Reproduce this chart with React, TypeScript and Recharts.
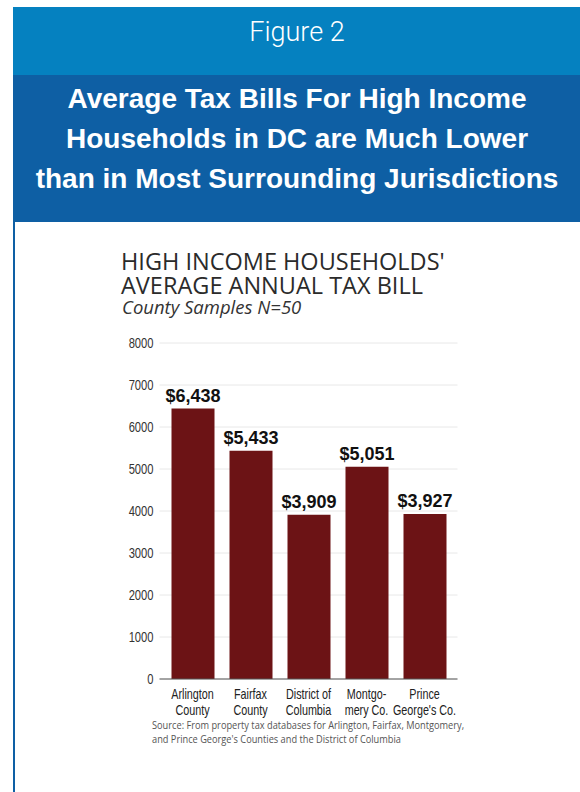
import React from "react";
import { BarChart, Bar, XAxis, YAxis, CartesianGrid, LabelList } from "recharts";

const categories = [
  "Arlington County",
  "Fairfax County",
  "District of Columbia",
  "Montgomery Co.",
  "Prince George's Co.",
];
const labelLine1 = ["Arlington", "Fairfax", "District of", "Montgo-", "Prince"];
const labelLine2 = ["County", "County", "Columbia", "mery Co.", "George's Co."];
const taxBills = [6438, 5433, 3909, 5051, 3927];
const yTicks = [0, 1000, 2000, 3000, 4000, 5000, 6000, 7000, 8000];

const headerTitle = "Figure 2";
const headlineLines = [
  "Average Tax Bills For High Income",
  "Households in DC are Much Lower",
  "than in Most Surrounding Jurisdictions",
];
const chartTitleLines = ["HIGH INCOME HOUSEHOLDS'", "AVERAGE ANNUAL TAX BILL"];
const chartSubtitle = "County Samples N=50";
const sourceLines = [
  "Source: From property tax databases for Arlington, Fairfax, Montgomery,",
  "and Prince George's Counties and the District of Columbia",
];

const data = categories.map((c, i) => ({ name: c, value: taxBills[i] }));

const SANS = "'Liberation Sans', Arial, sans-serif";

const XTick = (props: any) => {
  const { x, y, payload } = props;
  const i = payload.index;
  return (
    <g transform={`translate(${x},${y}) scale(0.77,1)`}>
      <text x={0} y={18} textAnchor="middle" fontFamily={SANS} fontSize={14} fill="#222">
        {labelLine1[i]}
      </text>
      <text x={0} y={34} textAnchor="middle" fontFamily={SANS} fontSize={14} fill="#222">
        {labelLine2[i]}
      </text>
    </g>
  );
};

const YTick = (props: any) => {
  const { x, y, payload } = props;
  return (
    <g transform={`translate(${x},${y}) scale(0.8,1)`}>
      <text x={0} y={0} dy={5} textAnchor="end" fontFamily={SANS} fontSize={14} fill="#333">
        {payload.value}
      </text>
    </g>
  );
};

const fmt = (v: any) => "$" + Number(v).toLocaleString("en-US");

export default function App() {
  return (
    <div style={{ position: "relative", width: 580, height: 792, background: "#fff", overflow: "hidden" }}>
      <style>{`body{margin:0;}`}</style>
      <svg width={580} height={792} style={{ position: "absolute", left: 0, top: 0 }}>
        <rect x={13} y={7} width={567} height={68} fill="#0581c0" />
        <rect x={13} y={75} width={567} height={147} fill="#0e5fa4" />
        <rect x={13} y={222} width={2} height={570} fill="#0e5fa4" />
        <text x={297} y={41} textAnchor="middle" fill="#fff" fontFamily="Roboto, sans-serif" fontWeight={300} fontSize={27}>
          {headerTitle}
        </text>
        {headlineLines.map((t, i) => (
          <text key={i} x={297} y={108 + i * 40} textAnchor="middle" fill="#fff" fontFamily={SANS} fontWeight={700} fontSize={28}>
            {t}
          </text>
        ))}
        {chartTitleLines.map((t, i) => (
          <text key={i} x={121} y={270 + i * 24} fill="#2b2b2b" fontFamily="'Open Sans', sans-serif" fontSize={23.5}>
            {t}
          </text>
        ))}
        <text x={122} y={314} fill="#333" fontFamily="'Open Sans', sans-serif" fontStyle="italic" fontSize={18.5}>
          {chartSubtitle}
        </text>
        {sourceLines.map((t, i) => (
          <g key={i} transform={`translate(152,${729 + i * 14}) scale(0.88,1)`}>
            <text x={0} y={0} fill="#555" fontFamily="'Open Sans', sans-serif" fontSize={10.5}>
              {t}
            </text>
          </g>
        ))}
      </svg>
      <div style={{ position: "absolute", left: 0, top: 300 }}>
        <BarChart
          width={580}
          height={460}
          data={data}
          margin={{ top: 43, right: 122.5, bottom: 41, left: 99.5 }}
        >
          <CartesianGrid vertical={false} stroke="#e8e8e8" />
          <XAxis
            dataKey="name"
            height={40}
            padding={{ left: 4, right: 4 }}
            tickLine={false}
            tickSize={0}
            axisLine={{ stroke: "#555" }}
            interval={0}
            tick={<XTick />}
          />
          <YAxis
            width={60}
            domain={[0, 8000]}
            ticks={yTicks}
            interval={0}
            axisLine={false}
            tickLine={false}
            tickSize={0}
            tickMargin={6}
            tick={<YTick />}
          />
          <Bar dataKey="value" fill="#6c1315" barSize={43} isAnimationActive={false}>
            <LabelList
              dataKey="value"
              position="top"
              offset={7}
              formatter={fmt}
              style={{ fontFamily: SANS, fontWeight: 700, fontSize: 18, fill: "#111" }}
            />
          </Bar>
        </BarChart>
      </div>
    </div>
  );
}
